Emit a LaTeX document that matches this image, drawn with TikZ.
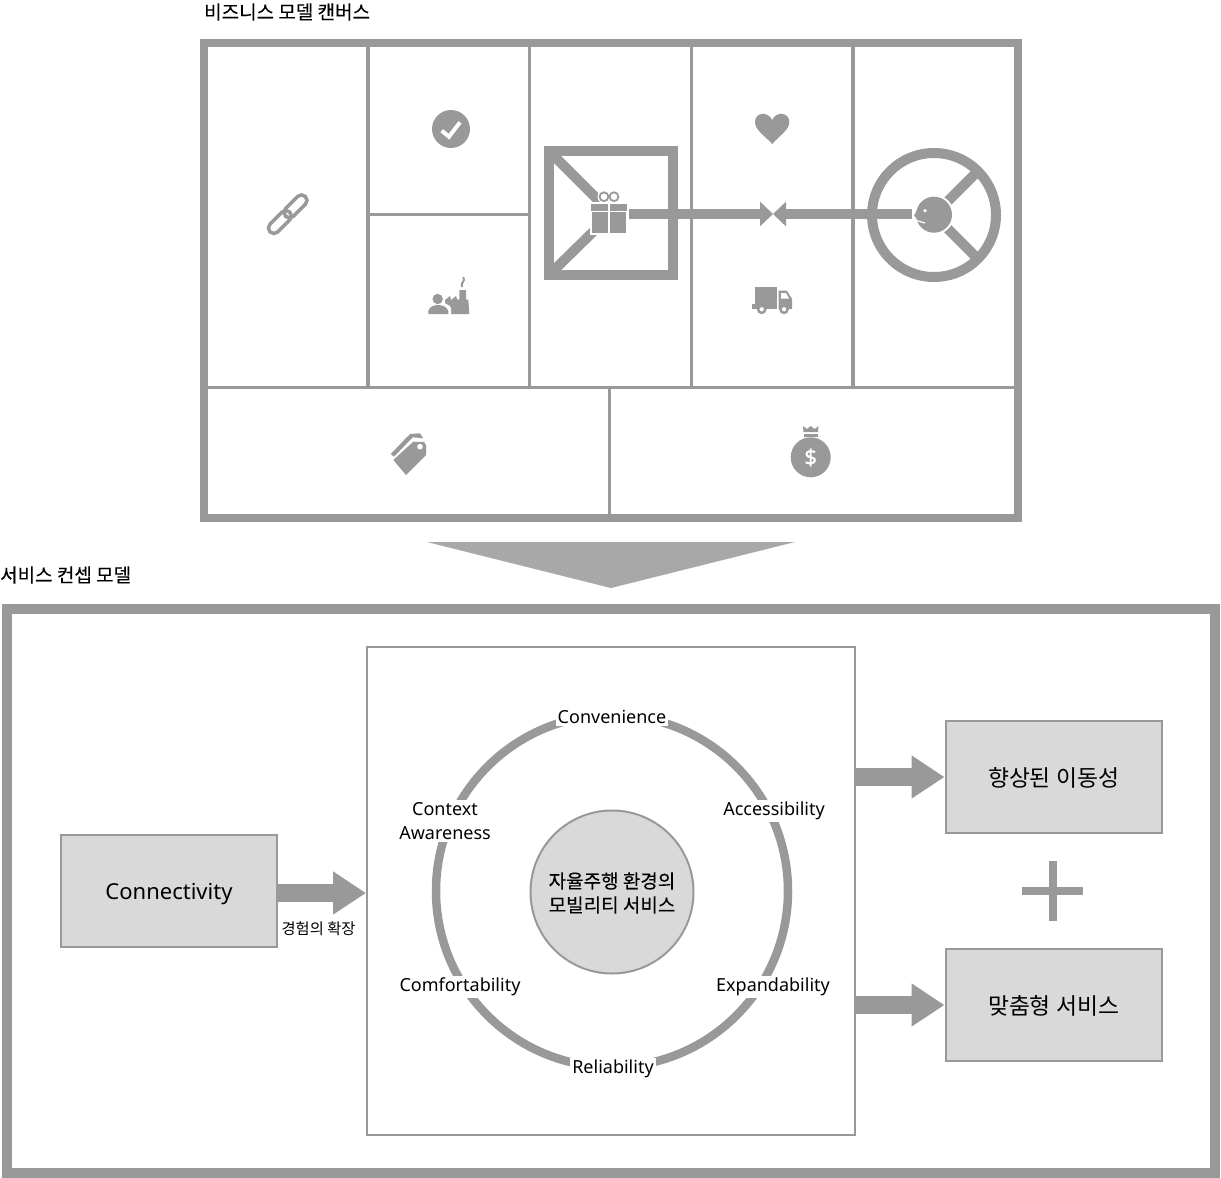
\documentclass[tikz,border=0pt]{standalone}
\usepackage{fontspec}
\setmainfont{Noto Sans CJK KR}
\newfontfamily\latinfont{Noto Sans}
\newfontfamily\headfont[FakeBold=0.25]{Noto Sans CJK KR}
\newfontfamily\dollarfont[FakeBold=1.2]{Noto Sans}
\usetikzlibrary{arrows.meta}
\definecolor{linegray}{HTML}{999999}
\definecolor{boxgray}{HTML}{D9D9D9}
\newcommand{\lowered}[2][1pt]{\raisebox{-#1}[\height][\depth]{#2}}
\tikzset{
  heavy/.style={draw=linegray,line width=8pt},
  thinline/.style={draw=linegray,line width=3.5pt},
  heading/.style={anchor=west,inner sep=0pt,font=\headfont\fontsize{19}{19}\selectfont},
  graybox/.style={draw=linegray,fill=boxgray,line width=2pt,inner sep=0pt,minimum width=216pt,minimum height=112pt,font=\fontsize{22.8}{22.8}\selectfont},
  ringlabel/.style={fill=white,inner sep=2pt,align=center,font=\latinfont\fontsize{18}{24}\selectfont},
  fatarrow/.style={draw=linegray,line width=17.6pt,-{Triangle[length=33pt,width=41pt]}},
  midarrow/.style={draw=linegray,line width=10pt,-{Triangle[length=13pt,width=24pt]}},
  icon/.style={fill=linegray,draw=none},
  linkring/.style={draw=linegray,line width=3.5pt,rounded corners=5.5pt,minimum width=28pt,minimum height=11pt,inner sep=0pt,rotate=45}
}
\begin{document}
\begin{tikzpicture}[x=1pt,y=-1pt]
\useasboundingbox (0,0) rectangle (1221,1178);
\node[heading] (canvastitle) at (204,12) {비즈니스 모델 캔버스};
\node[heading] (servicetitle) at (0,575) {서비스 컨셉 모델};
\draw[thinline] (368,43) -- (368,387); \draw[thinline] (529.5,43) -- (529.5,387);
\draw[thinline] (691.5,43) -- (691.5,387); \draw[thinline] (853,43) -- (853,387);
\draw[thinline] (368,214.5) -- (529,214.5); \draw[thinline] (204,387.5) -- (1018,387.5);
\draw[thinline] (609.5,387) -- (609.5,518);
\draw[heavy] (204,43) rectangle (1018,518);
\fill[icon] (451,129) circle (19);
\draw[white,line width=4pt] (441.7,130.7) -- (449,136.7) -- (460,122.3);
\node[linkring] (linklow) at (279.9,222) {};
\node[linkring] (linkup) at (295.5,206.4) {};
\fill[icon] (446.7,314) -- (445,300) -- (450,296) -- (451,300) -- (456,296) -- (457.3,299.5) -- (459.3,299.5) -- (459.3,290) -- (466,290) -- (466,299.5) -- (468.3,299.5) -- (469.3,314) -- cycle;
\draw[linegray,line width=2pt] (463.3,277) .. controls (466,282) and (460,282) .. (462,287);
\fill[white] (426,316) -- (426,308) .. controls (428,301) and (449,301) .. (451,308) -- (451,316) -- cycle;
\fill[icon] (437.7,299) circle (5.2);
\fill[icon] (428.3,314) -- (428.3,311) .. controls (430,303) and (446,303) .. (448.3,311) -- (448.3,314) -- cycle;
\fill[icon] (755,286.7) rectangle (777.3,309);
\fill[icon] (778.5,290.7) -- (787,290.7) -- (792,299) -- (792,309) -- (778.5,309) -- cycle;
\fill[white] (781,293) -- (786,293) -- (789,298.5) -- (781,298.5) -- cycle;
\fill[icon] (752.3,304) rectangle (756,309);
\draw[linegray,fill=white,line width=2.4pt] (761.7,309.3) circle (3.6); \draw[linegray,fill=white,line width=2.4pt] (784,309.3) circle (3.6);
\fill[icon] (772.2,144) .. controls (764,135) and (755,130) .. (755,122) .. controls (755,112) and (768,111) .. (772.2,120) .. controls (776,111) and (789.3,112) .. (789.3,122) .. controls (789.3,130) and (780,135) .. (772.2,144) -- cycle;
\fill[icon] (393.3,460) -- (413.3,441.7) -- (424,442) -- (426,445) -- (426,455) -- (406,475) -- cycle;
\fill[white] (420,446.7) circle (2.8);
\fill[icon] (390.7,454) -- (410,434) -- (420,433.3) -- (423.3,438.3) -- (412.7,437.3) -- (394,456.7) -- cycle;
\fill[icon] (810.7,457.3) circle (20);
\fill[icon] (803,426) -- (807,429) -- (810.7,426) -- (814.5,429) -- (818.5,426) -- (818,432) -- (803.5,432) -- cycle;
\fill[icon] (803.5,433.5) rectangle (818,437);
\node[white,inner sep=0pt,font=\dollarfont\fontsize{22}{22}\selectfont] (dollar) at (810.7,457.5) {\$};
\draw[linegray,line width=10pt] (549,151) rectangle (673,275);
\draw[linegray,line width=10pt] (549,151) -- (604,206);
\draw[linegray,line width=10pt] (549,275) -- (600,225);
\draw[linegray,line width=10pt] (934,215) circle (62);
\draw[linegray,line width=10pt] (934,215) -- (978,171);
\draw[linegray,line width=10pt] (934,215) -- (978,259);
\coordinate (meetpoint) at (773,214);
\draw[midarrow] (627,214) -- (meetpoint);
\draw[midarrow] (912,214) -- (meetpoint);
\fill[white] (934,214.7) circle (20);
\fill[white] (604,196.7) circle (6.5); \fill[white] (614,196.7) circle (6.5);
\fill[white] (589.5,201.5) rectangle (628.5,235);
\draw[linegray,line width=1.8pt] (604,196.7) circle (4.4); \draw[linegray,line width=1.8pt] (614,196.7) circle (4.4);
\fill[icon] (591,203.5) rectangle (627,210.7);
\fill[icon] (592,212) rectangle (626,233.3);
\fill[white] (608.2,203) rectangle (610.2,234);
\fill[icon] (934,214.7) circle (18);
\fill[icon] (914,215.5) -- (918,209) -- (918,220) -- cycle;
\fill[white] (925,210.7) circle (1.8);
\draw[white,line width=1.2pt] (914.5,220) -- (925,223);
\fill[fill=linegray!85] (427,542) -- (795,542) -- (611,588) -- cycle;
\draw[linegray,line width=10pt] (7,609) rectangle (1215,1172.5);
\node[draw=linegray,line width=2pt,minimum size=488pt,inner sep=0pt] (ringbox) at (611,891) {};
\draw[linegray,line width=8.5pt] (612,891) circle (176);
\node[graybox] (conn) at (169,891) {\latinfont\fontsize{22}{22}\selectfont\lowered[3pt]{Connectivity}};
\node[graybox] (mobility) at (1053.5,777) {\lowered{향상된 이동성}};
\node[graybox] (custom) at (1053.5,1005) {\lowered{맞춤형 서비스}};
\node[circle,draw=linegray,fill=boxgray,line width=2pt,minimum size=163pt,inner sep=0pt,align=center,font=\headfont\fontsize{19}{24}\selectfont] (hub) at (612,892) {\lowered{자율주행 환경의}\\\lowered{모빌리티 서비스}};
\node[ringlabel] (convenience) at (612,717) {Convenience};
\node[ringlabel] (accessibility) at (774,811) {Accessibility};
\node[ringlabel] (context) at (445,821) {Context\\Awareness};
\node[ringlabel] (comfort) at (460,987) {Comfortability};
\node[ringlabel] (expand) at (773,987) {Expandability};
\node[ringlabel] (reliability) at (613,1069) {Reliability};
\draw[fatarrow] ([yshift=-2pt]conn.east) -- ([yshift=-2pt]ringbox.west);
\draw[fatarrow] (ringbox.east |- mobility) -- (mobility.west);
\draw[fatarrow] (ringbox.east |- custom) -- (custom.west);
\node[inner sep=0pt,font=\fontsize{15.3}{15.3}\selectfont] (widen) at (318.5,929) {경험의 확장};
\node[fill=linegray,inner sep=0pt,minimum width=60.6pt,minimum height=8pt] (plusbar) at (1052.5,891) {};
\node[fill=linegray,inner sep=0pt,minimum width=8pt,minimum height=60.6pt] (plusstem) at (1052.5,891) {};
\end{tikzpicture}
\end{document}
